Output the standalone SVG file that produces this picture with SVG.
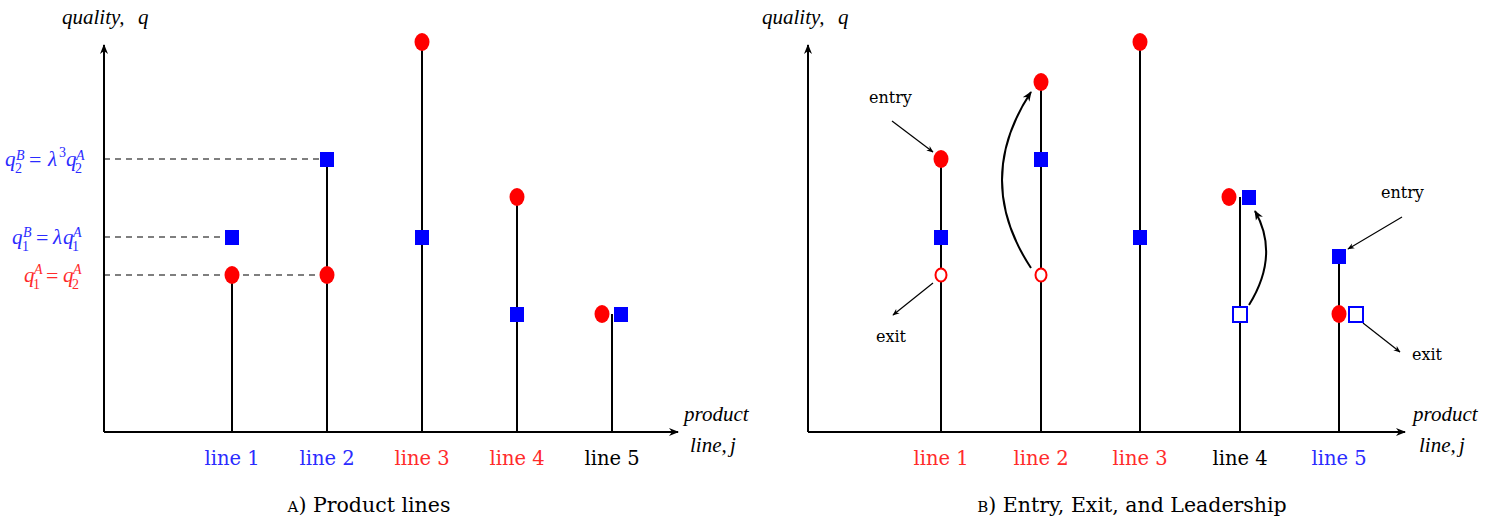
<svg xmlns="http://www.w3.org/2000/svg" width="1505" height="520" viewBox="0 0 1505 520">
<style>
.ax{stroke:#000;stroke-width:2;fill:none}
.st{stroke:#000;stroke-width:2;fill:none}
.ds{stroke:#000;stroke-width:1.1;stroke-dasharray:6,5;fill:none}
.ar{stroke:#000;stroke-width:1.2;fill:none}
.cv{stroke:#000;stroke-width:2;fill:none}
.rc{fill:#ff0000}
.bs{fill:#0000ff}
.hc{fill:#fff;stroke:#ff0000;stroke-width:2}
.hs{fill:#fff;stroke:#0000ff;stroke-width:2}
text{font-family:"DejaVu Serif","Liberation Serif",serif}
.it{font-family:"Liberation Serif","DejaVu Serif",serif;font-style:italic;font-size:21px}
.lb{font-size:19.5px;text-anchor:middle}
.cap{font-size:20.5px;text-anchor:middle}
.sm{font-size:16px}
.m{font-family:"Liberation Serif","DejaVu Serif",serif;font-style:italic;font-size:21px}
.ms{font-family:"Liberation Serif","DejaVu Serif",serif;font-style:italic;font-size:14px}
.md{font-family:"Liberation Serif","DejaVu Serif",serif;font-size:14px}
.eq{font-family:"Liberation Serif","DejaVu Serif",serif;font-size:22px}
.bl{fill:#2b2bff}
.rd{fill:#ff2b2b}
</style>
<defs>
<marker id="ah" viewBox="0 0 10 10" refX="9" refY="5" markerWidth="7" markerHeight="7" orient="auto" markerUnits="userSpaceOnUse"><path d="M0,1 L10,5 L0,9 L3,5 Z" fill="#000"/></marker>
<marker id="ab" viewBox="0 0 10 10" refX="9" refY="5" markerWidth="10" markerHeight="10" orient="auto" markerUnits="userSpaceOnUse"><path d="M0,1 L10,5 L0,9 L3,5 Z" fill="#000"/></marker>
</defs>

<g id="panelA-axes">
<line class="ax" x1="104" y1="432" x2="104" y2="45" marker-end="url(#ab)"/>
<line class="ax" x1="104" y1="432" x2="678" y2="432" marker-end="url(#ab)"/>
<text class="it" x="62" y="24">quality,</text><text class="it" x="138" y="24">q</text>
<text class="it" x="684" y="421">product</text>
<text class="it" x="690" y="452">line,</text><text class="it" x="730" y="452">j</text>
</g>

<g id="connectors">
<line class="ds" x1="104" y1="159" x2="327" y2="159"/>
<line class="ds" x1="104" y1="237" x2="232" y2="237"/>
<line class="ds" x1="104" y1="275" x2="232" y2="275"/>
<line class="ds" x1="232" y1="275" x2="327" y2="275"/>
<line class="ar" x1="892" y1="121" x2="933" y2="152" marker-end="url(#ah)"/>
<line class="ar" x1="933" y1="283" x2="893" y2="315" marker-end="url(#ah)"/>
<line class="ar" x1="1402" y1="217" x2="1348" y2="249" marker-end="url(#ah)"/>
<line class="ar" x1="1363" y1="323" x2="1400" y2="352" marker-end="url(#ah)"/>
<path class="cv" d="M1031,268 Q973,180 1031,92" marker-end="url(#ab)"/>
<path class="cv" d="M1249,305 Q1280,255 1255,211" marker-end="url(#ab)"/>
</g>

<g id="yaxis-labels">
<text class="m bl" x="5" y="166">q</text><text class="ms bl" x="16" y="160">B</text><text class="md bl" x="15" y="173">2</text>
<text class="eq bl" x="29" y="167">=</text><text class="m bl" x="48" y="166">λ</text><text class="md bl" x="59" y="157">3</text>
<text class="m bl" x="66" y="166">q</text><text class="ms bl" x="76" y="160">A</text><text class="md bl" x="75" y="173">2</text>

<text class="m bl" x="12" y="244">q</text><text class="ms bl" x="23" y="237">B</text><text class="md bl" x="22" y="251">1</text>
<text class="eq bl" x="36" y="245">=</text><text class="m bl" x="53" y="244">λ</text>
<text class="m bl" x="63" y="244">q</text><text class="ms bl" x="73" y="237">A</text><text class="md bl" x="72" y="251">1</text>

<text class="m rd" x="24" y="282">q</text><text class="ms rd" x="34" y="274">A</text><text class="md rd" x="33" y="289">1</text>
<text class="eq rd" x="46" y="283">=</text>
<text class="m rd" x="63" y="282">q</text><text class="ms rd" x="73" y="274">A</text><text class="md rd" x="72" y="289">2</text>
</g>

<g id="A-line1"><line class="st" x1="232" y1="432" x2="232" y2="275"/><ellipse class="rc" cx="232" cy="275" rx="7.5" ry="9"/><rect class="bs" x="225" y="230" width="14" height="15"/><text class="lb bl" x="232" y="465">line 1</text></g>
<g id="A-line2"><line class="st" x1="327" y1="432" x2="327" y2="159"/><ellipse class="rc" cx="327" cy="275" rx="7.5" ry="9"/><rect class="bs" x="320" y="152" width="14" height="15"/><text class="lb bl" x="327" y="465">line 2</text></g>
<g id="A-line3"><line class="st" x1="422" y1="432" x2="422" y2="42"/><ellipse class="rc" cx="422" cy="42" rx="7.5" ry="9"/><rect class="bs" x="415" y="230" width="14" height="15"/><text class="lb rd" x="422" y="465">line 3</text></g>
<g id="A-line4"><line class="st" x1="517" y1="432" x2="517" y2="197"/><ellipse class="rc" cx="517" cy="197" rx="7.5" ry="9"/><rect class="bs" x="510" y="307" width="14" height="15"/><text class="lb rd" x="517" y="465">line 4</text></g>
<g id="A-line5"><line class="st" x1="612" y1="432" x2="612" y2="314"/><ellipse class="rc" cx="602" cy="314" rx="7.5" ry="9"/><rect class="bs" x="614" y="307" width="14" height="15"/><text class="lb" x="612" y="465">line 5</text></g>
<text class="cap" x="369" y="512"><tspan font-size="15">A</tspan>) Product lines</text>

<g id="panelB-axes">
<line class="ax" x1="808" y1="432" x2="808" y2="45" marker-end="url(#ab)"/>
<line class="ax" x1="808" y1="432" x2="1405" y2="432" marker-end="url(#ab)"/>
<text class="it" x="762" y="24">quality,</text><text class="it" x="838" y="24">q</text>
<text class="it" x="1413" y="421">product</text>
<text class="it" x="1419" y="452">line,</text><text class="it" x="1459" y="452">j</text>
</g>

<g id="B-line1"><line class="st" x1="941" y1="432" x2="941" y2="159"/><ellipse class="rc" cx="941" cy="159" rx="7.5" ry="9"/><rect class="bs" x="934" y="230" width="14" height="15"/><ellipse class="hc" cx="941" cy="275" rx="5.5" ry="6.5"/><text class="lb rd" x="941" y="465">line 1</text></g>
<g id="B-line2"><line class="st" x1="1041" y1="432" x2="1041" y2="82"/><ellipse class="rc" cx="1041" cy="82" rx="7.5" ry="9"/><rect class="bs" x="1034" y="152" width="14" height="15"/><ellipse class="hc" cx="1041" cy="275" rx="5.5" ry="6.5"/><text class="lb rd" x="1041" y="465">line 2</text></g>
<g id="B-line3"><line class="st" x1="1140" y1="432" x2="1140" y2="42"/><ellipse class="rc" cx="1140" cy="42" rx="7.5" ry="9"/><rect class="bs" x="1133" y="230" width="14" height="15"/><text class="lb rd" x="1140" y="465">line 3</text></g>
<g id="B-line4"><line class="st" x1="1240" y1="432" x2="1240" y2="197"/><ellipse class="rc" cx="1229" cy="197" rx="7.5" ry="9"/><rect class="bs" x="1242" y="190" width="14" height="15"/><rect class="hs" x="1233" y="307" width="14" height="15"/><text class="lb" x="1240" y="465">line 4</text></g>
<g id="B-line5"><line class="st" x1="1339" y1="432" x2="1339" y2="256"/><rect class="bs" x="1332" y="249" width="14" height="15"/><ellipse class="rc" cx="1339" cy="314" rx="7.5" ry="9"/><rect class="hs" x="1349" y="307" width="14" height="15"/><text class="lb bl" x="1339" y="465">line 5</text></g>
<g id="labels-B">
<text class="sm" x="869" y="103">entry</text>
<text class="sm" x="876" y="342">exit</text>
<text class="sm" x="1381" y="198">entry</text>
<text class="sm" x="1412" y="360">exit</text>
</g>
<text class="cap" x="1132" y="512"><tspan font-size="15">B</tspan>) Entry, Exit, and Leadership</text>
</svg>
